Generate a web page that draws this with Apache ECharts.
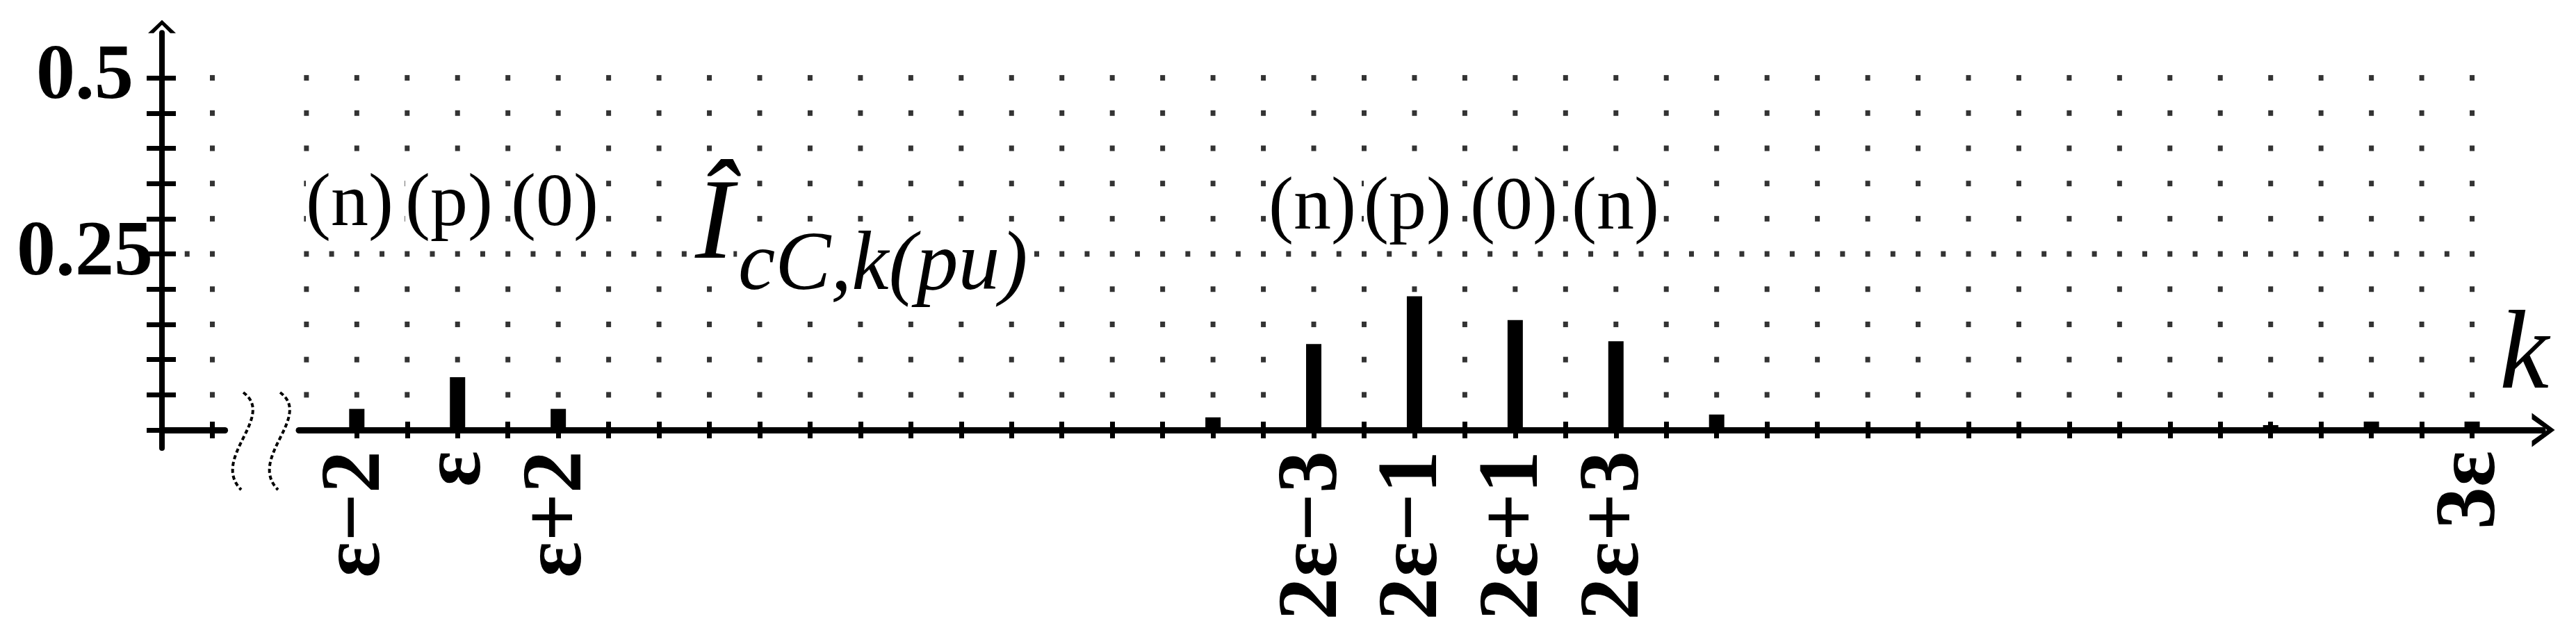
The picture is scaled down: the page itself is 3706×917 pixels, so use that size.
<!DOCTYPE html>
<html>
<head>
<meta charset="utf-8">
<script src="https://cdn.jsdelivr.net/npm/echarts@6/dist/echarts.min.js"></script>
<style>
    html, body {margin:0;padding:0;background:#fff;}
    #chart {width:3706px;height:917px;}
</style>
</head>
<body>
<div id="chart"></div>
<script>
    // harmonic order k (epsilon = 20) and amplitude in pu
    var barK   = [18, 20, 22, 35, 37, 39, 41, 43, 45, 56, 58, 60];
    var barVal = [0.030, 0.075, 0.030, 0.018, 0.122, 0.190, 0.156, 0.126, 0.022, 0.007, 0.012, 0.012];

    // labelled orders on the k axis
    var labelK    = [18, 20, 22, 37, 39, 41, 43, 60];
    var labelText = ['ε−2', 'ε', 'ε+2', '2ε−3', '2ε−1', '2ε+1', '2ε+3', '3ε'];

    // y ticks / labels
    var yTicks  = [0, 0.05, 0.1, 0.15, 0.2, 0.25, 0.3, 0.35, 0.4, 0.45, 0.5];
    var yLabels = [0.25, 0.5];

    // sequence tags
    var seqLeft  = ['(n)', '(p)', '(0)'];
    var seqRight = ['(n)', '(p)', '(0)', '(n)'];

    // axis ranges (left stub before the break, main part after it)
    var yMin = -0.0256, yMax = 0.564;
    var k0Min = 0, k0Max = 1.25;
    var k1Min = 16.85, k1Max = 61.4;

    var font = 'Liberation Serif';

    // ticks on the main k axis, every integer order
    var xTicks = [];
    for (var t = 18; t <= 60; t++) xTicks.push(t);

    // dotted lattice: one dot per integer k and 0.05 row, the 0.25 row twice as dense
    var dotRows = yTicks.slice(1);
    var dots1 = [], dots0 = [];
    for (var k = 17; k <= 60; k++) {
        dotRows.forEach(function (r) { dots1.push([k, r]); });
        if (k < 60) dots1.push([k + 0.5, 0.25]);
    }
    dotRows.forEach(function (r) { dots0.push([1, r]); });
    dots0.push([0.5, 0.25]);

    var chevronUp = 'path://M0,19 L20,0 L40,19 L32,19 L20,7 L8,19 Z';

    // ticks cross the axis: one axis draws the outer half, a twin draws the inner half
    var tickStyle = {color: '#000', width: 7};
    var lineStyle = {color: '#000', width: 9};

    var chart = echarts.init(document.getElementById('chart'));

    function seqTexts(list, xs, yc) {
        return list.map(function (s, i) {
            return {
                type: 'text', x: xs[i], y: yc, z: 100,
                style: {
                    text: s, font: '108px "' + font + '"', fill: '#000',
                    align: 'left', verticalAlign: 'middle', backgroundColor: '#fff'
                }
            };
        });
    }

    var option = {
        animation: false,
        backgroundColor: '#fff',
        grid: [
            {left: 233, top: 47.2, width: 90.6, height: 597.8, outerBoundsMode: 'none'},
            {left: 430, top: 47.2, width: 3228, height: 597.8, outerBoundsMode: 'none'}
        ],
        xAxis: [
            {
                type: 'value', gridIndex: 0, min: k0Min, max: k0Max, position: 'bottom',
                axisLine: {onZero: true, onZeroAxisIndex: 0, lineStyle: lineStyle},
                axisTick: {customValues: [1], length: 12, lineStyle: tickStyle},
                axisLabel: {show: false}, splitLine: {show: false}
            },
            {
                type: 'value', gridIndex: 0, min: k0Min, max: k0Max, position: 'bottom',
                axisLine: {show: false, onZero: true, onZeroAxisIndex: 1},
                axisTick: {customValues: [1], inside: true, length: 12, lineStyle: tickStyle},
                axisLabel: {show: false}, splitLine: {show: false}
            },
            {
                type: 'value', gridIndex: 1, min: k1Min, max: k1Max, position: 'bottom',
                axisLine: {
                    onZero: true, onZeroAxisIndex: 2, lineStyle: lineStyle,
                    symbol: ['none', 'path://M0,33 L24.5,0 L49,33 L40,33 L24.5,11 L9,33 Z'],
                    symbolSize: [49, 33], symbolOffset: [0, 1]
                },
                axisTick: {customValues: xTicks, length: 12, lineStyle: tickStyle},
                axisLabel: {
                    customValues: labelK, rotate: 90, margin: 4,
                    fontFamily: font, fontWeight: 'bold', fontSize: 122, color: '#000',
                    formatter: function (v) { return labelText[labelK.indexOf(v)]; }
                },
                splitLine: {show: false}
            },
            {
                type: 'value', gridIndex: 1, min: k1Min, max: k1Max, position: 'bottom',
                axisLine: {show: false, onZero: true, onZeroAxisIndex: 2},
                axisTick: {customValues: xTicks, inside: true, length: 12, lineStyle: tickStyle},
                axisLabel: {show: false}, splitLine: {show: false}
            }
        ],
        yAxis: [
            {
                type: 'value', gridIndex: 0, min: yMin, max: yMax, position: 'left',
                axisLine: {
                    onZero: true, onZeroAxisIndex: 0,
                    lineStyle: {color: '#000', width: 8},
                    symbol: ['none', chevronUp], symbolSize: [40, 19], symbolOffset: [0, 9]
                },
                axisTick: {customValues: yTicks, length: 22, lineStyle: tickStyle},
                axisLabel: {
                    customValues: yLabels, align: 'center', margin: 111,
                    fontFamily: font, fontWeight: 'bold', fontSize: 112, color: '#000'
                },
                splitLine: {show: false}
            },
            {
                type: 'value', gridIndex: 0, min: yMin, max: yMax, position: 'left',
                axisLine: {show: false, onZero: true, onZeroAxisIndex: 1},
                axisTick: {customValues: yTicks, inside: true, length: 20, lineStyle: tickStyle},
                axisLabel: {show: false}, splitLine: {show: false}
            },
            {
                type: 'value', gridIndex: 1, min: yMin, max: yMax,
                axisLine: {show: false}, axisTick: {show: false},
                axisLabel: {show: false}, splitLine: {show: false}
            }
        ],
        series: [
            {
                type: 'scatter', xAxisIndex: 0, yAxisIndex: 0, data: dots0,
                symbol: 'rect', symbolSize: [7, 8], itemStyle: {color: '#000'}, silent: true
            },
            {
                type: 'scatter', xAxisIndex: 2, yAxisIndex: 2, data: dots1,
                symbol: 'rect', symbolSize: [7, 8], itemStyle: {color: '#000'}, silent: true
            },
            {
                type: 'bar', xAxisIndex: 2, yAxisIndex: 2, barWidth: 22,
                itemStyle: {color: '#000'},
                data: barK.map(function (k, i) { return [k, barVal[i]]; })
            }
        ],
        graphic: [].concat(
            seqTexts(seqLeft, [440, 583, 735], 296),
            seqTexts(seqRight, [1825, 1962, 2115, 2261], 301),
            [
                {
                    type: 'text', x: 1000, y: 327, z: 100,
                    style: {text: 'Î', font: 'italic 166px "' + font + '"', fill: '#000',
                        align: 'left', verticalAlign: 'middle', backgroundColor: '#fff'}
                },
                {
                    type: 'text', x: 1062, y: 384, z: 100,
                    style: {text: 'cC,k(pu)', font: 'italic 120px "' + font + '"', fill: '#000',
                        align: 'left', verticalAlign: 'middle', backgroundColor: '#fff'}
                },
                {
                    type: 'text', x: 3596, y: 516, z: 100,
                    style: {text: 'k', font: 'italic 160px "' + font + '"', fill: '#000',
                        align: 'left', verticalAlign: 'middle'}
                },
                // axis break marks
                {
                    type: 'bezierCurve', z: 100,
                    shape: {x1: 350, y1: 565, cpx1: 398, cpy1: 600, cpx2: 302, cpy2: 660, x2: 347, y2: 705},
                    style: {stroke: '#000', lineWidth: 4, lineDash: [6, 4], fill: null}
                },
                {
                    type: 'bezierCurve', z: 100,
                    shape: {x1: 403, y1: 565, cpx1: 451, cpy1: 600, cpx2: 355, cpy2: 660, x2: 400, y2: 705},
                    style: {stroke: '#000', lineWidth: 4, lineDash: [6, 4], fill: null}
                }
            ]
        )
    };

    chart.setOption(option);

    window.onresize = function () {
        chart.resize();
    };
</script>
</body>
</html>
